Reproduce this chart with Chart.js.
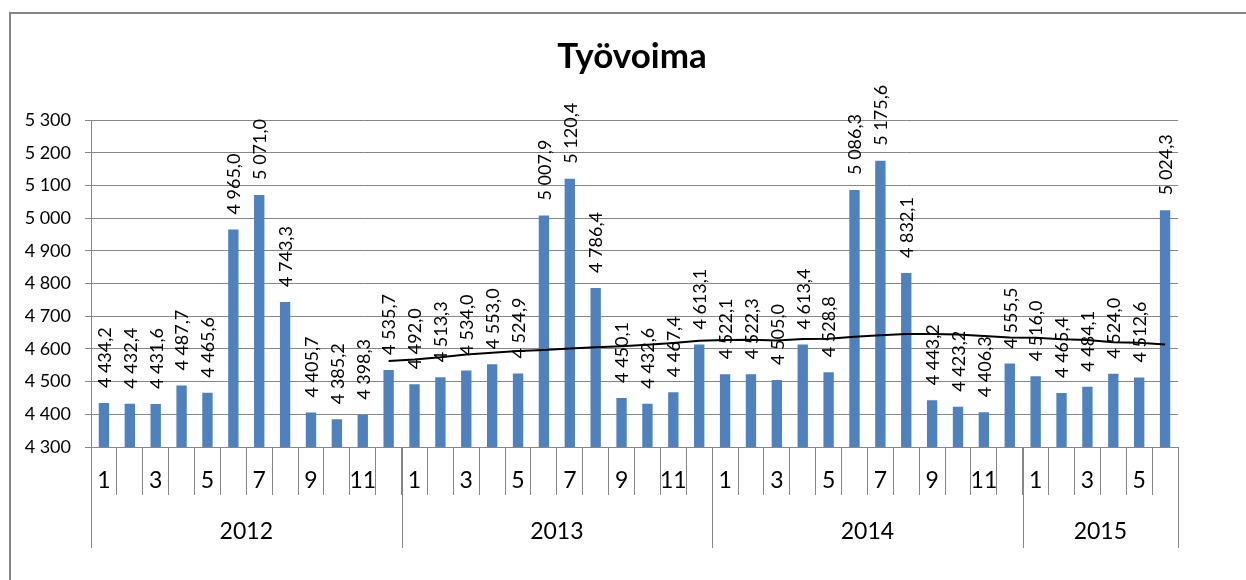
<!DOCTYPE html>
<html>
<head>
<meta charset="utf-8">
<title>Työvoima</title>
<script src="https://cdn.jsdelivr.net/npm/chart.js@4.4.1/dist/chart.umd.min.js"></script>
<style>
  body { margin: 0; background: #fff; }
  canvas { display: block; }
</style>
</head>
<body>
<canvas id="myChart" width="1246" height="580"></canvas>
<script>
// data
const years = ['2012', '2013', '2014', '2015'];
const yearLengths = [12, 12, 12, 6];
const months = ['1','2','3','4','5','6','7','8','9','10','11','12',
                '1','2','3','4','5','6','7','8','9','10','11','12',
                '1','2','3','4','5','6','7','8','9','10','11','12',
                '1','2','3','4','5','6'];
const tyovoima = [4434.2, 4432.4, 4431.6, 4487.7, 4465.6, 4965.0, 5071.0, 4743.3, 4405.7, 4385.2, 4398.3, 4535.7,
                  4492.0, 4513.3, 4534.0, 4553.0, 4524.9, 5007.9, 5120.4, 4786.4, 4450.1, 4432.6, 4467.4, 4613.1,
                  4522.1, 4522.3, 4505.0, 4613.4, 4528.8, 5086.3, 5175.6, 4832.1, 4443.2, 4423.2, 4406.3, 4555.5,
                  4516.0, 4465.4, 4484.1, 4524.0, 4512.6, 5024.3];
// 12 month moving average trend line
const trend = [null, null, null, null, null, null, null, null, null, null, null, 4563.0,
               4567.8, 4574.5, 4583.1, 4588.5, 4593.5, 4597.0, 4601.1, 4604.7, 4608.4, 4612.4, 4618.1, 4624.6,
               4627.1, 4627.9, 4625.4, 4630.5, 4630.8, 4637.3, 4641.9, 4645.7, 4645.2, 4644.4, 4639.3, 4634.5,
               4634.0, 4629.2, 4627.5, 4620.0, 4618.7, 4613.5];
const yMin = 4300, yMax = 5300, yStep = 100;

const FONT = 'Lato, "Open Sans", sans-serif';
const gridColor = '#868686';

function fmt(v, dec) {
  const parts = v.toFixed(dec).split('.');
  const int = parts[0].replace(/\B(?=(\d{3})+(?!\d))/g, ' ');
  return parts.length > 1 ? int + ',' + parts[1] : int;
}

// outer frame, year separators, year labels
const decorations = {
  id: 'decorations',
  beforeDraw(chart) {
    const c = chart.ctx;
    c.save();
    c.strokeStyle = gridColor;
    c.lineWidth = 2;
    c.beginPath();
    c.moveTo(10, 580);
    c.lineTo(10, 13);
    c.lineTo(1246, 13);
    c.stroke();
    c.restore();
  },
  afterDraw(chart) {
    const c = chart.ctx;
    const x = chart.scales.x;
    const half = (x.getPixelForValue(1) - x.getPixelForValue(0)) / 2;
    const top = chart.chartArea.bottom;
    c.save();
    c.strokeStyle = gridColor;
    c.lineWidth = 1;
    c.fillStyle = '#000';
    c.font = '23px ' + FONT;
    c.textAlign = 'center';
    c.textBaseline = 'middle';
    let start = 0;
    years.forEach((yr, k) => {
      const end = start + yearLengths[k] - 1;
      const left = x.getPixelForValue(start) - half;
      const right = x.getPixelForValue(end) + half;
      c.beginPath();
      c.moveTo(Math.round(left) + 0.5, top);
      c.lineTo(Math.round(left) + 0.5, 548);
      if (k === years.length - 1) {
        c.moveTo(Math.round(right) + 0.5, top);
        c.lineTo(Math.round(right) + 0.5, 548);
      }
      c.stroke();
      c.fillText(yr, (left + right) / 2, 532);
      start = end + 1;
    });
    c.restore();
  }
};

// rotated value labels above the bars
const barLabels = {
  id: 'barLabels',
  afterDatasetsDraw(chart) {
    const c = chart.ctx;
    const meta = chart.getDatasetMeta(1);
    c.save();
    c.fillStyle = '#000';
    c.font = '18px ' + FONT;
    c.textAlign = 'left';
    c.textBaseline = 'middle';
    meta.data.forEach((bar, i) => {
      c.save();
      c.translate(bar.x + 1, bar.y - 15);
      c.rotate(-Math.PI / 2);
      c.fillText(fmt(tyovoima[i], 1), 0, 0);
      c.restore();
    });
    c.restore();
  }
};

const ctx = document.getElementById('myChart').getContext('2d');
const myChart = new Chart(ctx, {
  data: {
    labels: months,
    datasets: [{
      type: 'line',
      label: 'Trendi',
      data: trend,
      borderColor: '#000',
      borderWidth: 2,
      pointRadius: 0,
      fill: false,
      tension: 0,
      order: 0
    }, {
      type: 'bar',
      label: 'Työvoima',
      data: tyovoima,
      backgroundColor: '#4F81BD',
      categoryPercentage: 1,
      barPercentage: 0.4,
      order: 1
    }]
  },
  options: {
    responsive: false,
    animation: false,
    layout: { padding: { left: 18, right: 0, top: 0, bottom: 0 } },
    plugins: {
      legend: { display: false },
      tooltip: { enabled: false },
      title: {
        display: true,
        text: 'Työvoima',
        color: '#000',
        font: { family: FONT, size: 35, weight: 'bold' },
        padding: { top: 36, bottom: 42 }
      }
    },
    scales: {
      x: {
        offset: true,
        afterFit(s) { s.height = 133; },
        grid: {
          offset: true,
          drawOnChartArea: false,
          drawTicks: true,
          tickLength: 48,
          color: gridColor
        },
        border: { display: true, color: gridColor },
        ticks: {
          autoSkip: false,
          maxRotation: 0,
          padding: -28,
          color: '#000',
          font: { family: FONT, size: 23 },
          callback: (v, i) => (i % 2 === 0 ? months[i] : '')
        }
      },
      y: {
        min: yMin,
        max: yMax,
        afterFit(s) { s.width = 73; },
        grid: { color: gridColor, tickLength: 6 },
        border: { display: true, color: gridColor },
        ticks: {
          stepSize: yStep,
          padding: 14,
          color: '#000',
          font: { family: FONT, size: 18 },
          callback: v => fmt(v, 0)
        }
      },
      // empty space on the right, keeps the title centred like the original
      rightSpace: {
        type: 'linear',
        position: 'right',
        grid: { display: false },
        border: { display: false },
        ticks: { display: false },
        afterFit(s) { s.width = 68; }
      }
    }
  },
  plugins: [decorations, barLabels]
});
</script>
</body>
</html>
